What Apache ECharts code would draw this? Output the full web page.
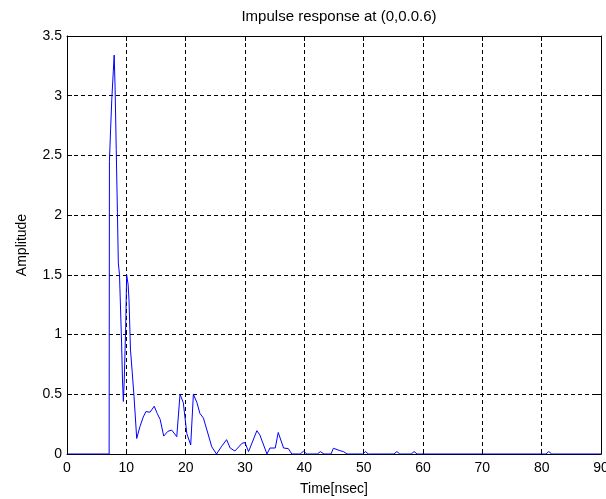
<!DOCTYPE html>
<html>
<head>
<meta charset="utf-8">
<title>Impulse response</title>
<script src="https://cdn.jsdelivr.net/npm/echarts@6/dist/echarts.min.js"></script>
<style>
  html, body { margin: 0; padding: 0; background: #fff; }
  #main { width: 606px; height: 499px; }
</style>
</head>
<body>
<div id="main"></div>
<script>
// time axis in nsec
var timeNs = [
    0, 7.1, 7.15, 7.35, 7.55, 7.8, 7.95, 8.1, 8.3, 8.5,
    8.65, 8.85, 9.2, 9.35, 9.5, 9.65, 9.9, 10.05, 10.3, 10.45,
    10.7, 11.0, 11.3, 11.75, 12.3, 12.85, 13.3, 14.0, 14.7, 15.2,
    15.7, 16.3, 17.0, 17.65, 18.5, 19.05, 19.6, 20.2, 20.85, 21.3,
    21.9, 22.4, 23.0, 24.4, 25.2, 26.0, 26.9, 27.5, 28.3, 29.5,
    30.0, 30.6, 32.0, 32.5, 33.7, 34.2, 35.1, 35.6, 36.5, 37.3,
    37.9, 39.3, 39.9, 40.4, 42.2, 42.7, 43.3, 44.5, 44.9, 46.0,
    46.6, 47.2, 49.8, 50.3, 50.8, 55.1, 55.6, 56.1, 58.0, 58.5,
    59.0, 80.7, 81.2, 81.7, 90
];
var amplitude = [
    0, 0, 2.45, 2.72, 2.97, 3.2, 3.34, 3.08, 2.55, 2.02,
    1.6, 1.5, 0.93, 0.62, 0.44, 0.62, 1.08, 1.5, 1.42, 1.29,
    0.87, 0.68, 0.48, 0.13, 0.23, 0.31, 0.355, 0.35, 0.4, 0.34,
    0.29, 0.15, 0.19, 0.2, 0.145, 0.5, 0.43, 0.17, 0.076, 0.5,
    0.43, 0.34, 0.3, 0.06, 0, 0.06, 0.12, 0.05, 0.025, 0.09,
    0.095, 0.02, 0.195, 0.16, 0, 0.05, 0.05, 0.18, 0.05, 0.045,
    0, 0, 0.025, 0, 0, 0.02, 0, 0, 0.048, 0.028,
    0.02, 0, 0, 0.02, 0, 0, 0.02, 0, 0, 0.02,
    0, 0, 0.02, 0, 0
];

var fontFam = "'Liberation Sans', Arial, sans-serif";

var points = [];
for (var i = 0; i < timeNs.length; i++) {
    points.push([timeNs[i], amplitude[i]]);
}

var gridDash = {
    show: true,
    lineStyle: { color: '#000', width: 1, type: [4, 3] }
};
var frameLine = { show: true, onZero: false, lineStyle: { color: '#000', width: 1 } };
var innerTick = { show: true, inside: true, length: 5, lineStyle: { color: '#000' } };

var myChart = echarts.init(document.getElementById('main'));
myChart.setOption({
    animation: false,
    backgroundColor: '#fff',
    title: {
        text: 'Impulse response at (0,0.0.6)',
        left: 334,
        top: 4,
        textAlign: 'center',
        textStyle: { fontFamily: fontFam, fontSize: 15, fontWeight: 'normal', color: '#000' }
    },
    grid: { left: 67, right: 5, top: 36, bottom: 45, outerBoundsMode: 'none', containLabel: false },
    xAxis: [
        {
            type: 'value',
            position: 'bottom',
            min: 0,
            max: 90,
            interval: 10,
            name: 'Time[nsec]',
            nameLocation: 'middle',
            nameGap: 28,
            nameTextStyle: { fontFamily: fontFam, fontSize: 14, color: '#000' },
            axisLine: frameLine,
            axisTick: innerTick,
            axisLabel: { fontFamily: fontFam, fontSize: 14, color: '#000', margin: 7 },
            splitLine: gridDash
        },
        {
            type: 'value',
            position: 'top',
            min: 0,
            max: 90,
            interval: 10,
            axisLine: frameLine,
            axisTick: innerTick,
            axisLabel: { show: false },
            splitLine: { show: false }
        }
    ],
    yAxis: [
        {
            type: 'value',
            position: 'left',
            min: 0,
            max: 3.5,
            interval: 0.5,
            name: 'Amplitude',
            nameLocation: 'middle',
            nameGap: 38,
            nameTextStyle: { fontFamily: fontFam, fontSize: 14, color: '#000' },
            axisLine: frameLine,
            axisTick: innerTick,
            axisLabel: { fontFamily: fontFam, fontSize: 14, color: '#000', margin: 5 },
            splitLine: gridDash
        },
        {
            type: 'value',
            position: 'right',
            min: 0,
            max: 3.5,
            interval: 0.5,
            axisLine: frameLine,
            axisTick: innerTick,
            axisLabel: { show: false },
            splitLine: { show: false }
        }
    ],
    series: [
        {
            name: 'Impulse response',
            type: 'line',
            xAxisIndex: 0,
            yAxisIndex: 0,
            data: points,
            showSymbol: false,
            smooth: false,
            lineStyle: { color: '#0000ff', width: 1 },
            itemStyle: { color: '#0000ff' }
        }
    ]
});
</script>
</body>
</html>
